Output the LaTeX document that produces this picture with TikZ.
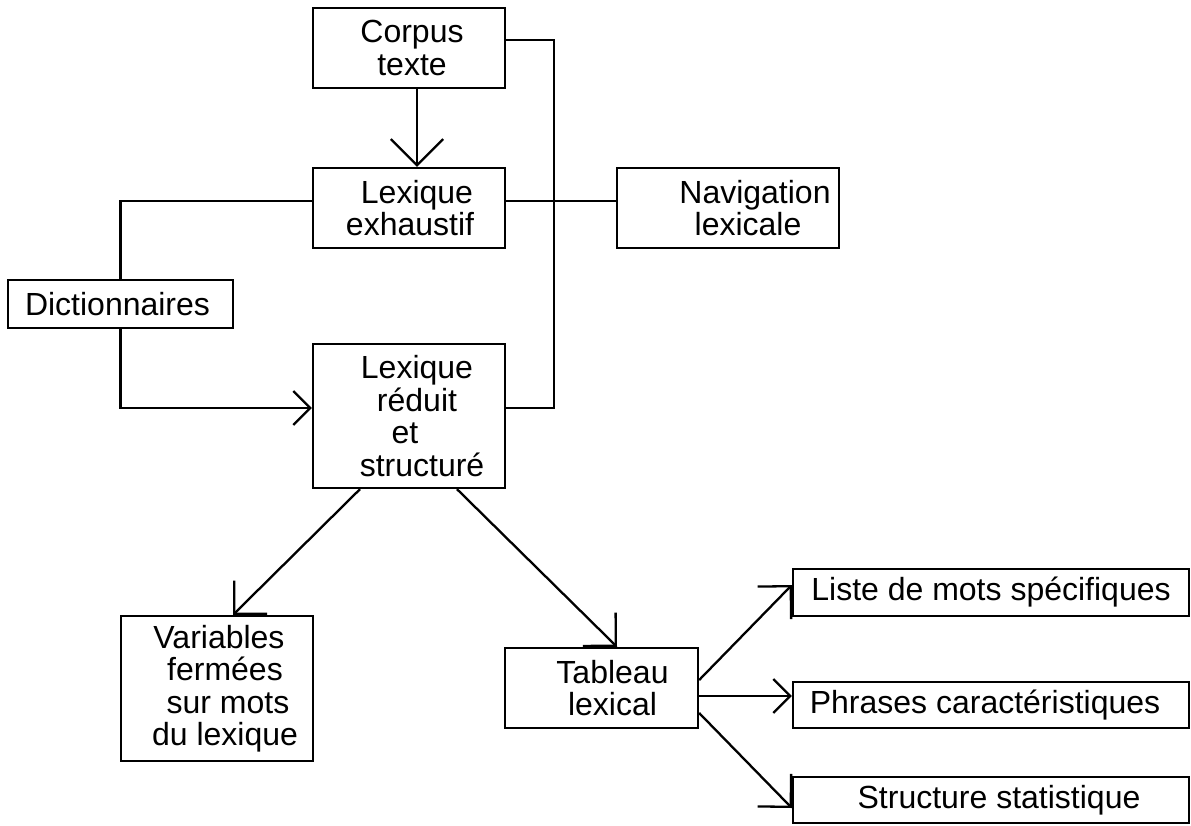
\documentclass[tikz,border=0pt]{standalone}
\usepackage{fontspec}
\setmainfont{Liberation Sans}
\usetikzlibrary{arrows.meta}
\begin{document}
\begin{tikzpicture}[x=1pt,y=-1pt,
  box/.style={draw, line width=2.3pt, inner sep=0pt},
  txt/.style={align=center, inner sep=0pt, font=\fontsize{32}{32.5}\selectfont},
  link/.style={line width=2.3pt},
  arrowto/.style={link, -{Straight Barb[angle=90:#1]}}]
\useasboundingbox (0,0) rectangle (1191,825);

% boxes
\node[box, minimum width=192pt, minimum height=80pt]  (corpus) at (409,48)    {};
\node[box, minimum width=192pt, minimum height=80pt]  (lex)    at (409,208)   {};
\node[box, minimum width=222pt, minimum height=80pt]  (nav)    at (728,208)   {};
\node[box, minimum width=225pt, minimum height=48pt]  (dict)   at (120.5,304) {};
\node[box, minimum width=192pt, minimum height=144pt] (red)    at (409,416)   {};
\node[box, minimum width=192pt, minimum height=145pt] (var)    at (217,688.5) {};
\node[box, minimum width=193pt, minimum height=80pt]  (tab)    at (601.5,688) {};
\node[box, minimum width=396pt, minimum height=47pt]  (liste)  at (991,592.5) {};
\node[box, minimum width=396pt, minimum height=46pt]  (phr)    at (991,705)   {};
\node[box, minimum width=396pt, minimum height=46pt]  (struct) at (991,800)   {};

% texts
\node[txt] (corpusT) at ([xshift=3pt]corpus.center) {Corpus\\texte};
\node[txt] (lexT)    at ([xshift=4.5pt]lex.center) {\hspace*{7pt}Lexique\\\hspace*{-7pt}exhaustif};
\node[txt] (navT)    at ([xshift=23.5pt]nav.center) {\hspace*{7pt}Navigation\\\hspace*{-7pt}lexicale};
\node[txt] (dictT)   at ([xshift=-3pt]dict.center) {Dictionnaires};
\node[txt] (redT)    at ([xshift=8pt]red.center) {Lexique\\r\'eduit\\\hspace*{-24pt}et\\\hspace*{10pt}structur\'e};
\node[txt] (varT)    at ([xshift=8pt]var.center) {\hspace*{-12pt}Variables\\ferm\'ees\\\hspace*{6pt}sur mots\\du lexique};
\node[txt] (tabT)    at ([xshift=11pt]tab.center) {Tableau\\lexical};
\node[txt] (listeT)  at (liste.center) {Liste de mots sp\'ecifiques};
\node[txt] (phrT)    at ([xshift=-6pt]phr.center) {Phrases caract\'eristiques};
\node[txt] (structT) at ([xshift=8pt]struct.center) {Structure statistique};

% connectors
\draw[arrowto=37pt] ([xshift=8pt]corpus.south) -- ([xshift=8pt]lex.north);
\draw[link] ([yshift=8pt]corpus.east) -- ++(48,0) |- ([yshift=8pt]red.east);
\draw[link] ([yshift=7pt]lex.east) -- ([yshift=7pt]nav.west);
\draw[link] (dict.north) |- ([yshift=7pt]lex.west);
\draw[arrowto=24pt] (dict.south) |- ([yshift=8pt]red.west);
\draw[arrowto=33pt] ([xshift=-49pt]red.south) -- ([xshift=16pt]var.north);
\draw[arrowto=33pt] ([xshift=48pt]red.south) -- ([xshift=15.5pt]tab.north);
\draw[arrowto=33pt] ([yshift=8pt]tab.east) -- ([yshift=7.5pt]liste.west);
\draw[arrowto=24pt] ([yshift=-8pt]tab.east) -- ([yshift=9pt]phr.west);
\draw[arrowto=33pt] ([yshift=-25pt]tab.east) -- ([yshift=-8pt]struct.west);
\end{tikzpicture}
\end{document}
